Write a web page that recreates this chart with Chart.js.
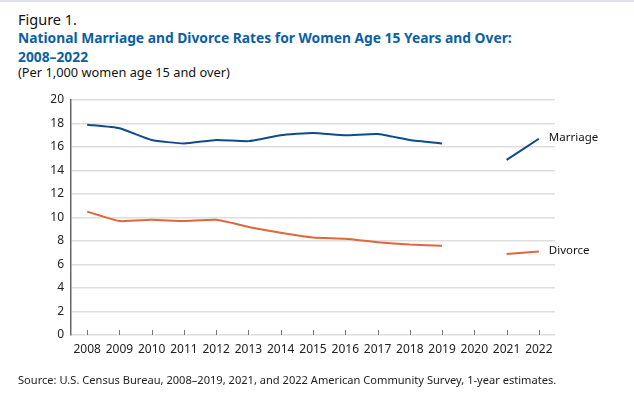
<!DOCTYPE html>
<html>
<head>
<meta charset="utf-8">
<script src="https://cdn.jsdelivr.net/npm/chart.js@4/dist/chart.umd.min.js"></script>
<style>
  html, body { margin: 0; padding: 0; background: #fff; }
  body { width: 634px; height: 398px; position: relative; overflow: hidden; font-family: "Noto Sans", sans-serif; }
  .topline { position: absolute; left: 0; top: 0; width: 634px; height: 2px; background: #dfe2ec; }
  .fig { position: absolute; left: 18px; top: 9px; font-size: 14.5px; color: #111; }
  .title { position: absolute; left: 18px; top: 28px; font-size: 13.8px; font-weight: bold; color: #0b5fa5; line-height: 19px; }
  .sub { position: absolute; left: 18px; top: 63px; font-size: 12.8px; color: #111; }
  .source { position: absolute; left: 18px; top: 372px; font-size: 11.1px; color: #222; }
  #wrap { position: absolute; left: 0; top: 0; width: 634px; height: 398px; }
</style>
</head>
<body>
<div class="topline"></div>
<div class="fig">Figure 1.</div>
<div class="title">National Marriage and Divorce Rates for Women Age 15 Years and Over:<br>2008–2022</div>
<div class="sub">(Per 1,000 women age 15 and over)</div>
<div id="wrap"><canvas id="chart"></canvas></div>
<div class="source">Source: U.S. Census Bureau, 2008–2019, 2021, and 2022 American Community Survey, 1-year estimates.</div>
<script>
const years = ['2008', '2009', '2010', '2011', '2012', '2013', '2014', '2015', '2016', '2017', '2018', '2019', '2020', '2021', '2022'];
const marriageRates = [17.9, 17.6, 16.6, 16.3, 16.6, 16.5, 17.0, 17.2, 17.0, 17.1, 16.6, 16.3, null, 14.9, 16.7];
const divorceRates = [10.5, 9.7, 9.8, 9.7, 9.8, 9.2, 8.7, 8.3, 8.2, 7.9, 7.7, 7.6, null, 6.9, 7.1];
const seriesNames = ['Marriage', 'Divorce'];

// small tick marks standing up from the baseline, plus end labels
const extras = {
    id: 'extras',
    afterDraw(chart) {
        const ctx = chart.ctx;
        const x = chart.scales.x;
        const bottom = chart.chartArea.bottom;
        ctx.save();
        ctx.strokeStyle = '#777';
        ctx.lineWidth = 1;
        years.forEach((y, i) => {
            const px = Math.round(x.getPixelForValue(i)) + 0.5;
            ctx.beginPath();
            ctx.moveTo(px, bottom);
            ctx.lineTo(px, bottom - 5);
            ctx.stroke();
        });
        ctx.fillStyle = '#111';
        ctx.font = '11.5px "Noto Sans"';
        ctx.textBaseline = 'middle';
        chart.data.datasets.forEach((ds, i) => {
            const meta = chart.getDatasetMeta(i);
            const last = meta.data[meta.data.length - 1];
            ctx.fillText(ds.label, last.x + 10, last.y - 1);
        });
        ctx.restore();
    }
};

new Chart(document.getElementById('chart'), {
    type: 'line',
    data: {
        labels: years,
        datasets: [{
            label: seriesNames[0],
            data: marriageRates,
            borderColor: '#0d4c8b',
            borderWidth: 2,
            pointRadius: 0,
            tension: 0.15,
            spanGaps: false
        }, {
            label: seriesNames[1],
            data: divorceRates,
            borderColor: '#e1663b',
            borderWidth: 2,
            pointRadius: 0,
            tension: 0.15,
            spanGaps: false
        }]
    },
    options: {
        responsive: true,
        maintainAspectRatio: false,
        animation: false,
        layout: { padding: { top: 100, left: 35, right: 79, bottom: 38 } },
        plugins: { legend: { display: false }, tooltip: { enabled: false } },
        scales: {
            x: {
                offset: true,
                grid: { display: false, drawTicks: false },
                border: { display: false },
                ticks: { color: '#222', font: { family: 'Noto Sans', size: 12 }, padding: 7, maxRotation: 0, autoSkip: false },
                afterFit(scale) { scale.height = 25; }
            },
            y: {
                min: 0,
                max: 20,
                ticks: { stepSize: 2, color: '#222', font: { family: 'Noto Sans', size: 12 }, padding: 7 },
                grid: { color: '#dedede', lineWidth: 1.5, drawTicks: false },
                border: { display: true, color: '#666', width: 1.5 },
                afterFit(scale) { scale.width = 36; }
            }
        }
    },
    plugins: [extras]
});
</script>
</body>
</html>
